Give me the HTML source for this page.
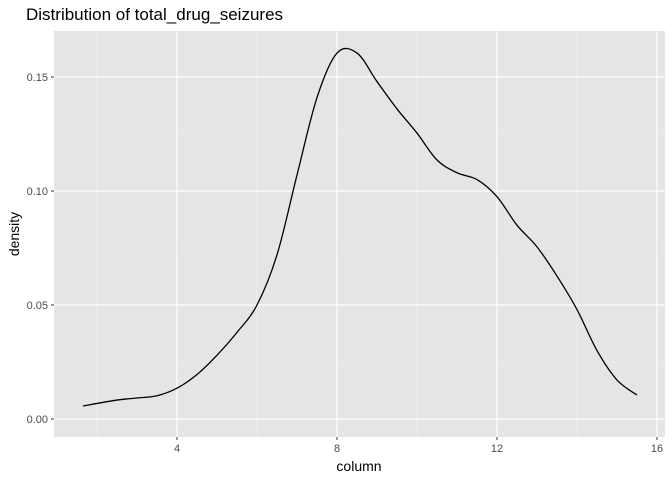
<!DOCTYPE html>
<html><head><meta charset="utf-8"><style>
html,body{margin:0;padding:0;background:#fff;}
svg{display:block;font-family:"Liberation Sans",sans-serif;}
</style></head><body>
<svg id="chart" width="672" height="480">
<text x="26" y="20" font-size="17" fill="#000">Distribution of total_drug_seizures</text>
<rect x="54" y="31" width="611" height="406" fill="#e5e5e5"/>
<g id="grid"></g>
<g id="axes"></g>
<path id="curve" fill="none" stroke="#000" stroke-width="1.3"/>
<text x="359" y="471" font-size="14" text-anchor="middle" fill="#000">column</text>
<text transform="translate(19,234) rotate(-90)" font-size="14" text-anchor="middle" fill="#000">density</text>
</svg>
<script>
const xs = [1.65,2.5,3,3.5,4,4.5,5,5.5,6,6.5,7,7.5,8,8.5,9,9.5,10,10.5,11,11.5,12,12.5,13,13.5,14,14.5,15,15.5];
const ys = [0.0057,0.0083,0.0092,0.0102,0.0135,0.0195,0.028,0.038,0.050,0.072,0.107,0.141,0.1605,0.1605,0.148,0.136,0.1254,0.1136,0.108,0.105,0.0975,0.085,0.0755,0.0627,0.048,0.030,0.0171,0.0105];
const xTicks = [4,8,12,16];
const yTicks = [0,0.05,0.10,0.15];
const xMinor = [2,6,10,14];
const yMinor = [0.025,0.075,0.125];
const X = v => 17 + v*40;
const Y = v => 419 - v*2280;
const ns = "http://www.w3.org/2000/svg";
const grid = document.getElementById('grid'), axes = document.getElementById('axes');
function line(p,x1,y1,x2,y2,c,w,name){const l=document.createElementNS(ns,'line');
l.setAttribute('x1',x1);l.setAttribute('y1',y1);l.setAttribute('x2',x2);l.setAttribute('y2',y2);
l.setAttribute('stroke',c);l.setAttribute('stroke-width',w);


p.appendChild(l);}
function text(x,y,s,anchor,name){const t=document.createElementNS(ns,'text');
t.setAttribute('x',x);t.setAttribute('y',y);t.setAttribute('font-size','11');t.setAttribute('fill','#4d4d4d');t.setAttribute('text-anchor',anchor);t.textContent=s;


axes.appendChild(t);}
xMinor.forEach(v=>line(grid,X(v),31,X(v),437,'#f2f2f2',0.6,'x-minor-grid'));
yMinor.forEach(v=>line(grid,54,Y(v),665,Y(v),'#f2f2f2',0.6,'y-minor-grid'));
xTicks.forEach(v=>{line(grid,X(v),31,X(v),437,'#fff',1.2,'x-major-grid');line(axes,X(v),437,X(v),440,'#333',1,'x-tick');text(X(v),452,String(v),'middle','x-tick-label');});
yTicks.forEach(v=>{line(grid,54,Y(v),665,Y(v),'#fff',1.2,'y-major-grid');line(axes,51,Y(v),54,Y(v),'#333',1,'y-tick');text(48,Y(v)+4,v.toFixed(2),'end','y-tick-label');});
const pts = xs.map((x,i)=>[X(x),Y(ys[i])]);
let d='M'+pts[0][0]+','+pts[0][1];
for(let i=0;i<pts.length-1;i++){const p0=pts[Math.max(i-1,0)],p1=pts[i],p2=pts[i+1],p3=pts[Math.min(i+2,pts.length-1)];
d+=' C'+(p1[0]+(p2[0]-p0[0])/6)+','+(p1[1]+(p2[1]-p0[1])/6)+' '+(p2[0]-(p3[0]-p1[0])/6)+','+(p2[1]-(p3[1]-p1[1])/6)+' '+p2[0]+','+p2[1];}
document.getElementById('curve').setAttribute('d',d);
</script>
</body></html>
